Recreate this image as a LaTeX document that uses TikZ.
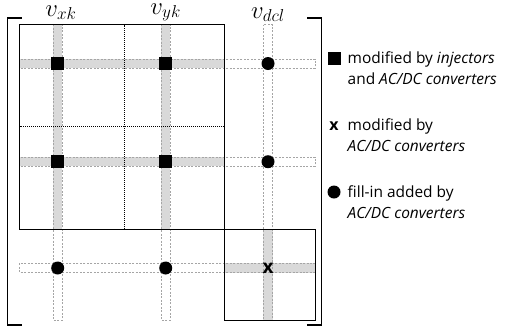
\documentclass[tikz,border=0pt]{standalone}
\usepackage{fontspec}
\setsansfont{Open Sans}
\usetikzlibrary{positioning}
\definecolor{BandGray}{RGB}{217,217,217}
\definecolor{DashGray}{RGB}{165,165,165}

\tikzset{
  bandfill/.style={fill=BandGray, draw=none},
  bandline/.style={draw=DashGray, dash pattern=on 2pt off 1.5pt, line width=0.5pt},
  blockbox/.style={draw=black, line width=0.8pt},
  divider/.style={draw=black, dash pattern=on 1pt off 1pt, line width=0.6pt},
  sqmark/.style={fill=black, minimum size=12.5bp, inner sep=0pt},
  dotmark/.style={circle, fill=black, minimum size=13bp, inner sep=0pt},
  xmark/.style={inner sep=0pt, font=\sffamily\bfseries\fontsize{19}{19}\selectfont},
  collabel/.style={anchor=base, inner sep=0pt, font=\fontsize{25}{28}\selectfont},
  legtext/.style={anchor=north west, inner sep=0pt, align=left, font=\sffamily\fontsize{15.5}{21.5}\selectfont}
}

\begin{document}
\begin{tikzpicture}[x=1bp, y=-1bp]
    \useasboundingbox (0,0) rectangle (511,331);

    % Bandas grises (parte rellena)
    \foreach \c in {57.7,165.7}
        \fill[bandfill] (\c-4.7,24.5) rectangle (\c+4.7,229);
    \foreach \r in {63.5,161.7}
        \fill[bandfill] (19.5,\r-4.7) rectangle (224,\r+4.7);
    \fill[bandfill] (268-4.7,229) rectangle (268+4.7,320);
    \fill[bandfill] (224,268-4.7) rectangle (315,268+4.7);

    % Contornos discontinuos de las bandas
    \foreach \c in {57.7,165.7,268}
        \draw[bandline] (\c-4.7,24.5) rectangle (\c+4.7,320);
    \foreach \r in {63.5,161.7,268}
        \draw[bandline] (19.5,\r-4.7) rectangle (315,\r+4.7);

    % Bloques
    \draw[divider] (124.5,24.5) -- (124.5,229);
    \draw[divider] (19.5,126) -- (224,126);
    \draw[blockbox] (19.5,24.5) rectangle (224,229);
    \draw[blockbox] (224,229) rectangle (315,320);

    % Corchetes
    \draw[line width=1.1pt] (21.5,18) -- (7.5,18) -- (7.5,325) -- (21.5,325);
    \draw[line width=1.1pt] (307,18) -- (321.5,18) -- (321.5,325) -- (307,325);

    % Etiquetas de columnas
    \node[collabel] (vxk) at (61,16) {$v_{xk}$};
    \node[collabel] (vyk) at (165.7,14) {$v_{yk}$};
    \node[collabel] (vdcl) at (268,18) {$v_{dcl}$};

    % Marcas de la matriz
    \node[sqmark] (m11) at (57.7,63.5) {};
    \node[sqmark] (m12) at (165.7,63.5) {};
    \node[sqmark] (m21) at (57.7,161.7) {};
    \node[sqmark] (m22) at (165.7,161.7) {};
    \node[dotmark] (f13) at (268,63.5) {};
    \node[dotmark] (f23) at (268,161.7) {};
    \node[dotmark] (f31) at (57.7,268) {};
    \node[dotmark] (f32) at (165.7,268) {};
    \node[xmark] (x33) at (268,268) {x};

    % Leyenda
    \node[sqmark, minimum size=13bp] (legsq) at (334,58) {};
    \node[legtext] (legsqtxt) at (347.5,51) {modified by \textit{injectors}\\and \textit{AC/DC converters}};
    \node[xmark, font=\sffamily\bfseries\fontsize{16}{16}\selectfont] (legx) at (334,126) {x};
    \node[legtext] (legxtxt) at (347.5,118) {modified by\\\textit{AC/DC converters}};
    \node[dotmark, minimum size=13bp] (legdot) at (334,192) {};
    \node[legtext] (legdottxt) at (347.5,185) {fill-in added by\\\textit{AC/DC converters}};
\end{tikzpicture}
\end{document}
